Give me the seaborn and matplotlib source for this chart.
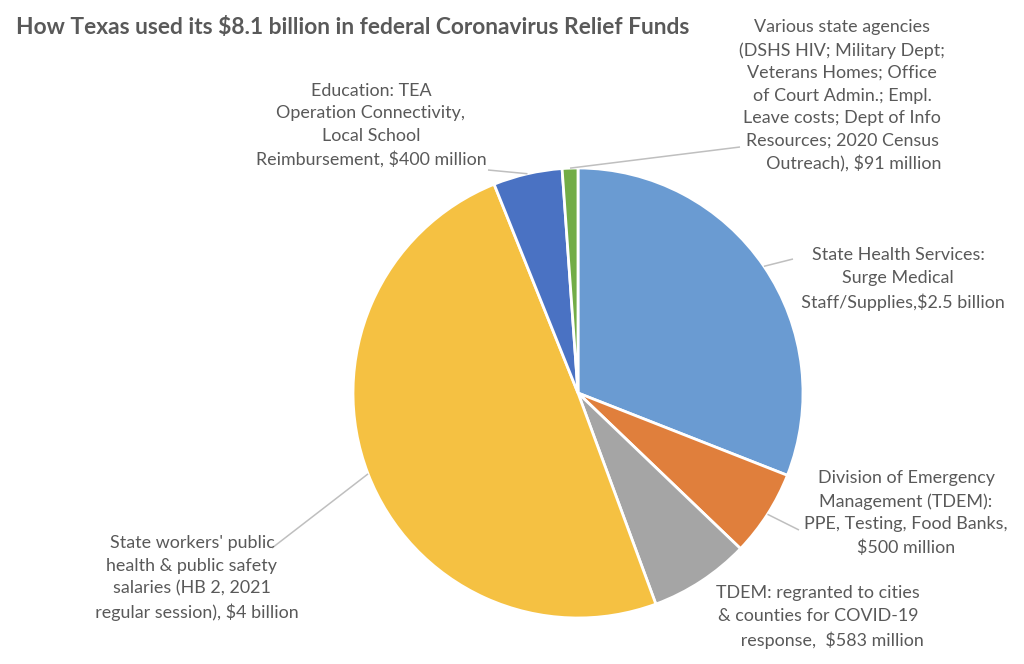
import numpy as np
import matplotlib
matplotlib.use("Agg")
import matplotlib.pyplot as plt
import seaborn as sns

# ---- data ----
categories = [
    "State Health Services:\nSurge Medical\n  Staff/Supplies,$2.5 billion",
    "Division of Emergency\nManagement (TDEM):\nPPE, Testing, Food Banks,\n$500 million",
    "TDEM: regranted to cities\n& counties for COVID-19\n      response,  $583 million",
    "State workers' public\nhealth & public safety\nsalaries (HB 2, 2021\n  regular session), $4 billion",
    "Education: TEA\nOperation Connectivity,\nLocal School\nReimbursement, $400 million",
    "Various state agencies\n(DSHS HIV; Military Dept;\nVeterans Homes; Office\nof Court Admin.; Empl.\nLeave costs; Dept of Info\nResources; 2020 Census\n     Outreach), $91 million",
]
values_millions = [2500, 500, 583, 4000, 400, 91]
colors = ["#6A9BD2", "#E07F3C", "#A5A5A5", "#F5C142", "#4A72C3", "#72AD47"]
title = "How Texas used its $8.1 billion in federal Coronavirus Relief Funds"

# label layout (pixel coords, y from top): text centre and leader-line end
label_pos = [(898, 279), (906, 513), (818, 617), (192, 578), (371, 125), (842, 96)]
leader_end = [(793, 259), (799, 530), None, (272, 548), (488, 170), (740, 147)]

W, H = 1024, 664
sns.set_theme(style="white")
plt.rcParams["font.family"] = ["Lato", "DejaVu Sans"]

fig = plt.figure(figsize=(W / 100, H / 100), dpi=100)
ax = fig.add_axes([0, 0, 1, 1])

cx, cy, r = 578, 393, 225
wedges, _ = ax.pie(
    values_millions,
    colors=colors,
    startangle=90,
    counterclock=False,
    center=(cx, H - cy),
    radius=r,
    wedgeprops=dict(edgecolor="white", linewidth=2),
)
ax.set_xlim(0, W)
ax.set_ylim(0, H)
ax.set_aspect("equal")
ax.axis("off")

text_color = "#595959"
for w, lab, (tx, ty), end in zip(wedges, categories, label_pos, leader_end):
    mid = np.deg2rad((w.theta1 + w.theta2) / 2)
    ax.text(tx, H - ty, lab, ha="center", va="center", fontsize=12.9,
            color=text_color, linespacing=1.5)
    if end is not None:
        x0 = cx + r * np.cos(mid)
        y0 = (H - cy) + r * np.sin(mid)
        ax.plot([x0, end[0]], [y0, H - end[1]], color="#BFBFBF", lw=1.1,
                solid_capstyle="butt")

fig.text(16 / W, 1 - 27 / H, title, ha="left", va="center", fontsize=16.4,
         fontweight="bold", color=text_color)

fig.savefig("out.png", dpi=100, facecolor="white")
